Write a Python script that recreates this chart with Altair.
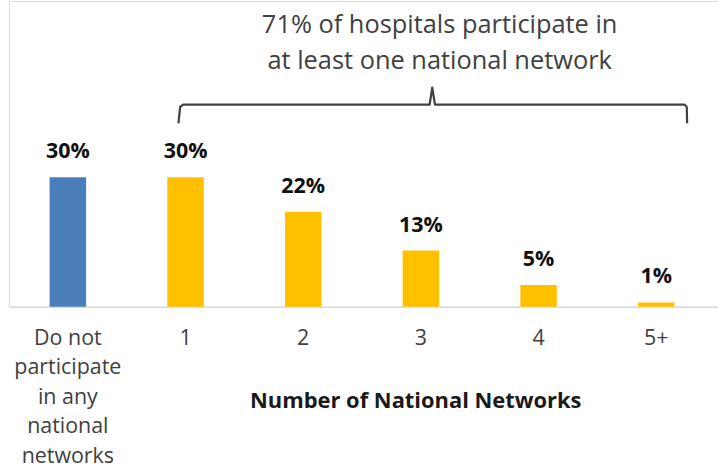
import altair as alt
import pandas as pd

# ---- data ----
categories = ["Do not\nparticipate\nin any\nnational\nnetworks", "1", "2", "3", "4", "5+"]
groups = ["none", "national", "national", "national", "national", "national"]
values = [30, 30, 22, 13, 5, 1]

# bracket annotation in data units (x: band-step units, y: percent)
bracket_x = [1.44, 1.455, 1.48, 3.575, 3.597, 3.62, 5.74, 5.76, 5.763]
bracket_y = [42.5, 46.3, 46.85, 46.85, 50.8, 46.85, 46.85, 46.3, 42.5]
note_text = ["71% of hospitals participate in\nat least one national network"]
note_x = [3.66]
note_y = [63.4]

axis_title = "Number of National Networks"

df = pd.DataFrame({"cat": categories, "group": groups, "value": values})
df_b = pd.DataFrame({"bx": bracket_x, "by": bracket_y, "o": list(range(len(bracket_x)))})
df_n = pd.DataFrame({"t": note_text, "nx": note_x, "ny": note_y})

FONT = "Open Sans"
W = 712
YDOM = [0, 70.85]
yscale = alt.Scale(domain=YDOM, nice=False, zero=True)
xq = alt.Scale(domain=[0, 6 * W / 709], nice=False, zero=False)

xenc = alt.X(
    "cat:N",
    sort=categories,
    scale=alt.Scale(paddingInner=0.69, paddingOuter=0.3575, align=0.483),
    axis=alt.Axis(
        title=axis_title,
        labelAngle=0,
        labelExpr="split(datum.label, '\\n')",
        labelFont=FONT,
        labelFontSize=21.5,
        labelLineHeight=29.5,
        labelColor="#404040",
        labelPadding=21,
        ticks=False,
        domainColor="#d9d9d9",
        domainWidth=1.2,
        grid=False,
        titleFont=FONT,
        titleFontSize=22,
        titleFontWeight="bold",
        titleColor="#1a1a1a",
        titleX=408,
        titleY=101,
        titleAlign="center",
        titleBaseline="alphabetic",
        labelOverlap=False,
    ),
)

bars = alt.Chart(df).mark_bar().encode(
    x=xenc,
    y=alt.Y("value:Q", scale=yscale, axis=None),
    color=alt.Color(
        "group:N",
        scale=alt.Scale(domain=["none", "national"], range=["#4a7ebb", "#ffc000"]),
        legend=None,
    ),
)

labels = alt.Chart(df).transform_calculate(
    lab="datum.value + '%'"
).mark_text(
    font=FONT, fontSize=21.5, fontWeight="bold", color="#111111",
    baseline="alphabetic", dy=-19,
).encode(
    x=alt.X("cat:N", sort=categories),
    y=alt.Y("value:Q", scale=yscale, axis=None),
    text="lab:N",
)

base_layer = alt.layer(bars, labels)

bracket = alt.Chart(df_b).mark_line(
    color="#404040", strokeWidth=2.2, strokeJoin="round"
).encode(
    x=alt.X("bx:Q", scale=xq, axis=None),
    y=alt.Y("by:Q", scale=yscale, axis=None),
    order="o:Q",
)

note = alt.Chart(df_n).mark_text(
    font=FONT, fontSize=25.5, color="#404040", lineBreak="\n",
    lineHeight=36, baseline="alphabetic", align="center",
).encode(
    x=alt.X("nx:Q", scale=xq, axis=None),
    y=alt.Y("ny:Q", scale=yscale, axis=None),
    text="t:N",
)

annot = alt.layer(bracket, note)

chart = alt.layer(base_layer, annot).resolve_scale(x="independent").properties(
    width=W,
    height=307,
    autosize=alt.AutoSizeParams(type="none"),
    padding={"left": 9, "top": 0, "right": 0, "bottom": 161},
).configure_view(stroke=None).configure(background="white")

chart.save("out.html", embed_options={"renderer": "svg", "actions": False})
